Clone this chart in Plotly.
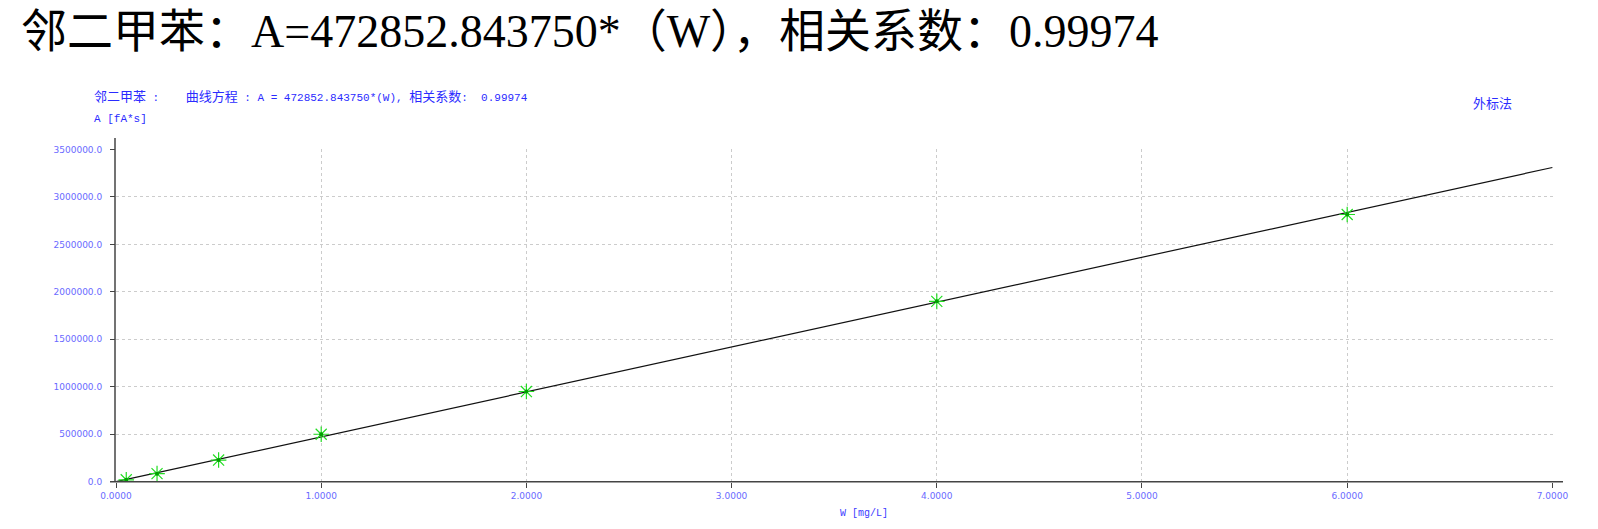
import plotly.graph_objects as go

# ---- data ----
conc_w = [0.05, 0.2, 0.5, 1.0, 2.0, 4.0, 6.0]          # W [mg/L]
area_a = [20000, 85000, 228000, 500000, 950000, 1900000, 2815000]  # A [fA*s]
slope = 472852.843750
fit_x = [0.0, 7.0]
fit_y = [slope * v for v in fit_x]
x_ticks = [0, 1, 2, 3, 4, 5, 6, 7]
y_ticks = [0, 500000, 1000000, 1500000, 2000000, 2500000, 3000000, 3500000]

title_text = "邻二甲苯：A=472852.843750*（W），相关系数：0.99974"
cjk = '<span style="font-size:13px">{}</span>'
header_text = (cjk.format("邻二甲苯") + " :    " + cjk.format("曲线方程")
               + " : A = 472852.843750*(W), " + cjk.format("相关系数") + ":  0.99974")

W, H = 1598, 529
OFF = 8  # default page body margin
def px(x):
    return (x - OFF) / W
def py(y):
    return (H - (y - OFF)) / H

x0, x1 = 116, 1553
y0, y1 = 481.7, 149.3

fig = go.Figure()
fig.add_trace(go.Scatter(x=fit_x, y=fit_y, mode="lines",
                         line=dict(color="#111111", width=1.2), hoverinfo="skip"))
fig.add_trace(go.Scatter(x=conc_w, y=area_a, mode="markers",
                         marker=dict(symbol="asterisk-open", size=13, color="#22dd22",
                                     line=dict(color="#22dd22", width=1.2))))
fig.add_trace(go.Scatter(x=conc_w, y=area_a, mode="markers",
                         marker=dict(symbol="circle", size=4, color="#00a000")))

tickfont = dict(family="DejaVu Sans", size=9, color="#6a6aff")
fig.update_xaxes(domain=[px(x0), px(x1)], range=[0, 7.003], tickvals=x_ticks,
                 tickformat=".4f", showgrid=True, gridcolor="#cccccc", griddash="dot",
                 gridwidth=1, zeroline=False, showline=False, ticks="outside",
                 ticklen=5, tickcolor="#444444", tickfont=tickfont, automargin=False)
fig.update_yaxes(domain=[py(y0), py(y1)], range=[0, 3.5e6 * 1.0005], tickvals=y_ticks,
                 tickformat=".1f", showgrid=True, gridcolor="#cccccc", griddash="dot",
                 gridwidth=1, zeroline=False, showline=False, ticks="outside",
                 ticklen=5, tickcolor="#444444", tickfont=tickfont, ticklabelstandoff=6,
                 automargin=False)

# axis lines (slightly overshooting the plot area, as in the original)
fig.add_shape(type="line", xref="paper", yref="paper", x0=px(115), x1=px(115),
              y0=py(138), y1=py(482), line=dict(color="#444444", width=1.5))
fig.add_shape(type="line", xref="paper", yref="paper", x0=px(110), x1=px(1563),
              y0=py(481.7), y1=py(481.7), line=dict(color="#444444", width=1.5))

annos = [
    dict(text=title_text, x=px(19), y=py(32), xanchor="left", yanchor="middle",
         font=dict(family="Liberation Serif, Noto Sans CJK SC", size=46, color="#000000")),
    dict(text=header_text, x=px(92), y=py(97), xanchor="left", yanchor="middle",
         font=dict(family="Liberation Mono, Noto Sans CJK SC", size=11, color="#2b2bff")),
    dict(text="A [fA*s]", x=px(92), y=py(119), xanchor="left", yanchor="middle",
         font=dict(family="Liberation Mono, Noto Sans CJK SC", size=11, color="#2b2bff")),
    dict(text="外标法", x=px(1471), y=py(102), xanchor="left", yanchor="middle",
         font=dict(family="Noto Sans CJK SC", size=13, color="#2b2bff")),
    dict(text="W [mg/L]", x=px(838), y=py(513), xanchor="left", yanchor="middle",
         font=dict(family="Liberation Mono, Noto Sans CJK SC", size=10, color="#3a3aff")),
]
for a in annos:
    a.update(xref="paper", yref="paper", showarrow=False)
fig.update_layout(annotations=annos, width=W, height=H, showlegend=False,
                  margin=dict(l=0, r=0, t=0, b=0, pad=0),
                  paper_bgcolor="white", plot_bgcolor="white")

fig.write_html("out.html")
